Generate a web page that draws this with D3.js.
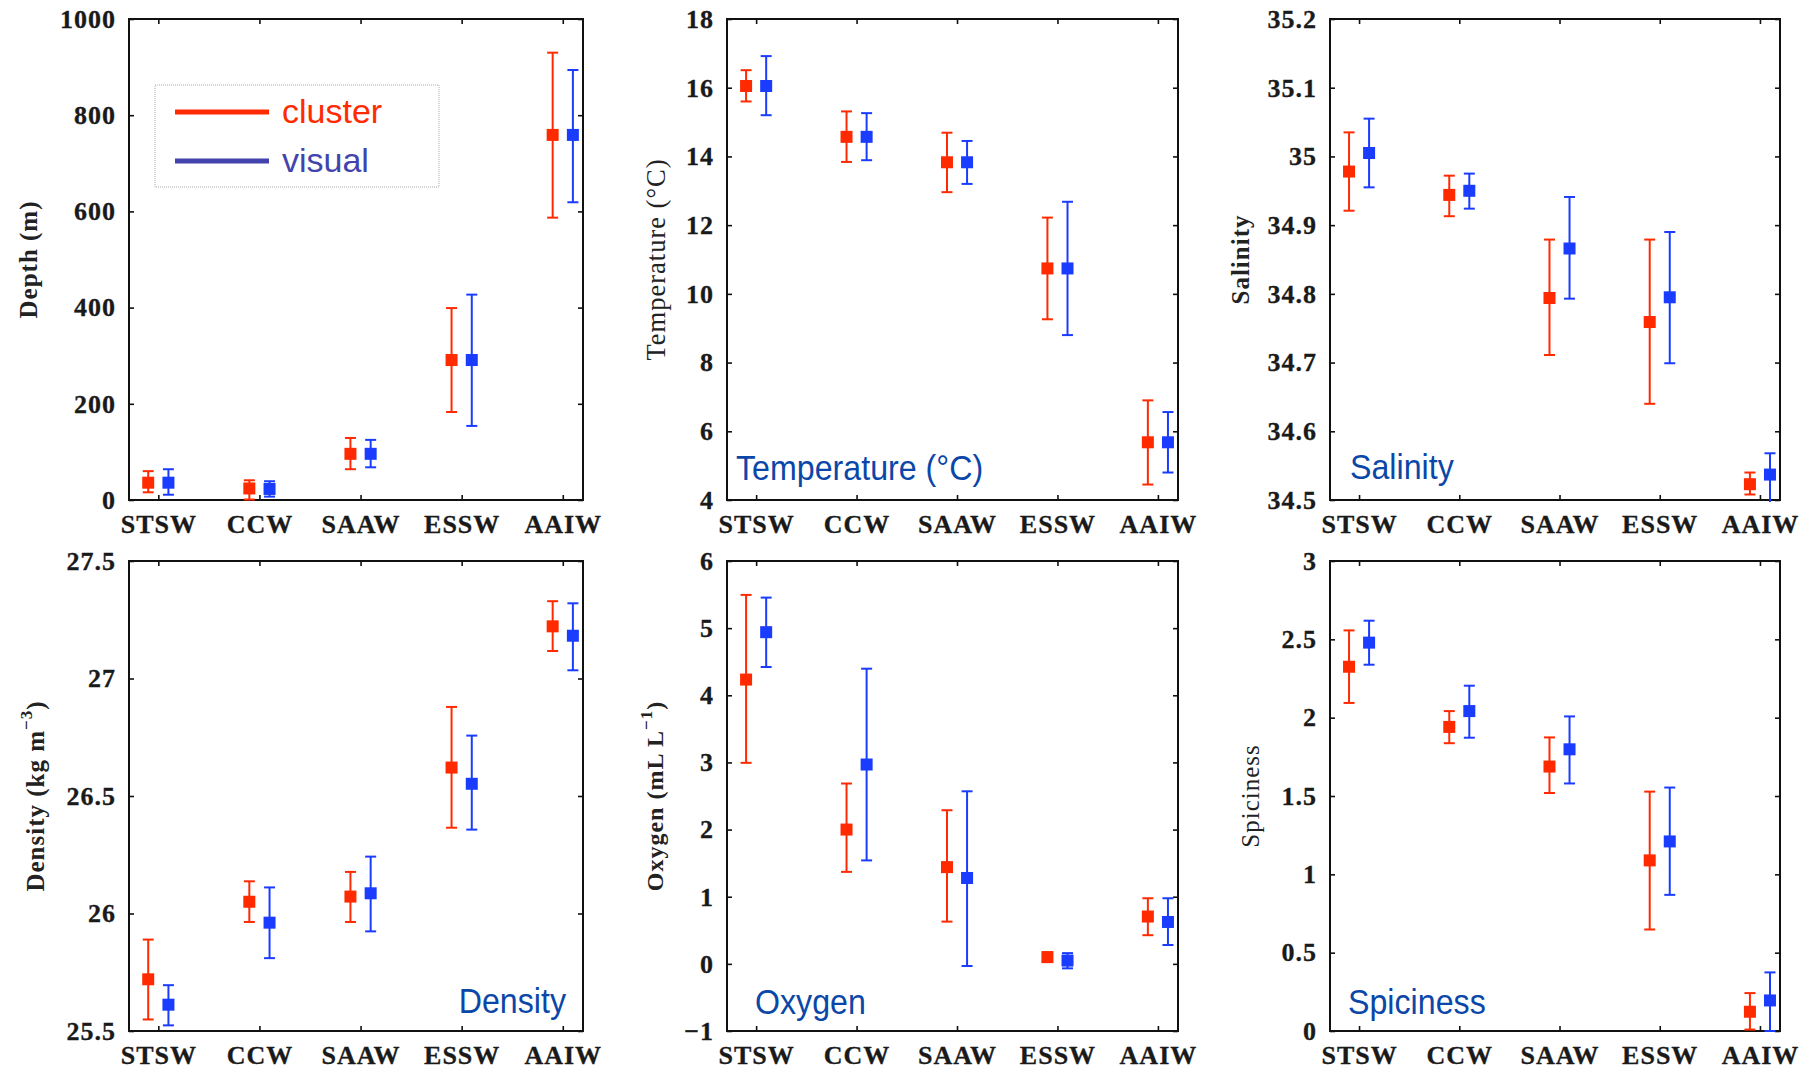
<!DOCTYPE html>
<html lang="en">
<head>
  <meta charset="UTF-8">
  <title>Water mass properties: cluster vs visual</title>
  <script src="https://d3js.org/d3.v7.min.js"></script>
  <style>
    body { margin: 0; padding: 0; background: #fff; }
    .tick text { font-family: "Liberation Serif", "Times New Roman", serif; font-weight: bold; font-size: 26px; fill: #1a1a1a; stroke: #1a1a1a; stroke-width: 0.3; letter-spacing: 1px; }
    .tick line { stroke: #111; stroke-width: 1.6; }
    .ytitle { font-family: "Liberation Serif", "Times New Roman", serif; fill: #222; }
    .note { font-family: "Liberation Sans", Arial, sans-serif; font-size: 35px; fill: #0b47a8; }
    .legend text { font-family: "Liberation Sans", Arial, sans-serif; font-size: 34px; }
  </style>
</head>
<body>
  <div id="chart"></div>
  <script>
    // categories (water masses)
    const categories = ["STSW", "CCW", "SAAW", "ESSW", "AAIW"];

    // each entry: [mean, lower, upper]
    const depthCluster = [[36, 16, 60], [24, 1, 41], [96, 64, 129], [291, 183, 399], [759, 587, 930]];
    const depthVisual  = [[36, 11, 64], [23, 7, 39], [96, 68, 125], [291, 154, 427], [759, 619, 894]];

    const tempCluster = [[16.05, 15.6, 16.51], [14.57, 13.84, 15.31], [13.83, 12.96, 14.69], [10.74, 9.26, 12.22], [5.68, 4.45, 6.9]];
    const tempVisual  = [[16.05, 15.2, 16.92], [14.57, 13.89, 15.26], [13.83, 13.2, 14.45], [10.74, 8.8, 12.68], [5.68, 4.8, 6.56]];

    const salCluster = [[34.978, 34.921, 35.035], [34.944, 34.913, 34.972], [34.794, 34.711, 34.879], [34.759, 34.64, 34.879], [34.523, 34.508, 34.54]];
    const salVisual  = [[35.005, 34.955, 35.055], [34.95, 34.924, 34.975], [34.866, 34.793, 34.941], [34.795, 34.699, 34.89], [34.537, 34.495, 34.568]];

    const densCluster = [[25.72, 25.549, 25.889], [26.05, 25.964, 26.137], [26.072, 25.964, 26.177], [26.621, 26.365, 26.879], [27.222, 27.117, 27.329]];
    const densVisual  = [[25.612, 25.524, 25.695], [25.961, 25.81, 26.111], [26.086, 25.924, 26.242], [26.552, 26.357, 26.757], [27.182, 27.035, 27.32]];

    const oxyCluster = [[4.234, 2.994, 5.495], [2.0, 1.37, 2.686], [1.441, 0.629, 2.288], [0.1, 0.03, 0.17], [0.705, 0.427, 0.977]];
    const oxyVisual  = [[4.94, 4.421, 5.455], [2.969, 1.541, 4.396], [1.279, -0.032, 2.57], [0.049, -0.067, 0.16], [0.624, 0.281, 0.977]];

    const spiceCluster = [[2.325, 2.094, 2.557], [1.941, 1.837, 2.042], [1.688, 1.519, 1.874], [1.089, 0.648, 1.528], [0.123, 0.009, 0.242]];
    const spiceVisual  = [[2.479, 2.338, 2.619], [2.042, 1.872, 2.204], [1.798, 1.58, 2.008], [1.21, 0.869, 1.554], [0.195, 0.0, 0.374]];

    // y tick values
    const depthTicks = [0, 200, 400, 600, 800, 1000];
    const tempTicks = [4, 6, 8, 10, 12, 14, 16, 18];
    const salTicks = [34.5, 34.6, 34.7, 34.8, 34.9, 35, 35.1, 35.2];
    const densTicks = [25.5, 26, 26.5, 27, 27.5];
    const oxyTicks = [-1, 0, 1, 2, 3, 4, 5, 6];
    const spiceTicks = [0, 0.5, 1, 1.5, 2, 2.5, 3];

    const seriesNames = ["cluster", "visual"];
    const seriesColors = ["#ff2a00", "#1a3cff"];
    const legendColors = ["#ff2a00", "#4343ae"];

    // layout
    const cols = [{ x: 129, w: 454 }, { x: 727, w: 451 }, { x: 1330, w: 450 }];
    const rows = [{ y: 19, h: 481 }, { y: 561, h: 470 }];

    const fmtMinus = d => String(d).replace("-", "\u2212");

    const panels = [
      { col: 0, row: 0, data: [depthCluster, depthVisual], ticks: depthTicks,
        title: [{ t: "Depth (m)" }], bold: true, size: 25, titleDx: 101, legend: true },
      { col: 1, row: 0, data: [tempCluster, tempVisual], ticks: tempTicks,
        title: [{ t: "Temperature (\u00B0C)" }], bold: false, size: 26.5, titleDx: 71,
        note: "Temperature (\u00B0C)", noteX: 9, noteDy: 20, anchor: "start" },
      { col: 2, row: 0, data: [salCluster, salVisual], ticks: salTicks,
        title: [{ t: "Salinity" }], bold: true, size: 25, titleDx: 90,
        note: "Salinity", noteX: 20, noteDy: 21, anchor: "start" },
      { col: 0, row: 1, data: [densCluster, densVisual], ticks: densTicks,
        title: [{ t: "Density (kg m" }, { t: "\u22123", sup: true }, { t: ")" }], bold: true, size: 25, titleDx: 94,
        note: "Density", noteX: -17, noteDy: 18, anchor: "end" },
      { col: 1, row: 1, data: [oxyCluster, oxyVisual], ticks: oxyTicks,
        title: [{ t: "Oxygen (mL L" }, { t: "\u22121", sup: true }, { t: ")" }], bold: true, size: 24, titleDx: 72,
        note: "Oxygen", noteX: 28, noteDy: 17, anchor: "start" },
      { col: 2, row: 1, data: [spiceCluster, spiceVisual], ticks: spiceTicks,
        title: [{ t: "Spiciness" }], bold: false, size: 25, titleDx: 80,
        note: "Spiciness", noteX: 18, noteDy: 17, anchor: "start" }
    ];

    const svg = d3.select("#chart").append("svg")
      .attr("width", 1820)
      .attr("height", 1071);

    panels.forEach((p, i) => {
      const L = cols[p.col], R = rows[p.row];
      const w = L.w, h = R.h;
      const g = svg.append("g").attr("transform", `translate(${L.x},${R.y})`);

      const x = d3.scaleLinear().domain([0.71, 5.2]).range([0, w]);
      const y = d3.scaleLinear().domain([p.ticks[0], p.ticks[p.ticks.length - 1]]).range([h, 0]);

      // frame
      g.append("rect")
        .attr("width", w).attr("height", h)
        .attr("fill", "none").attr("stroke", "#111").attr("stroke-width", 2);

      // axes, ticks pointing inward
      g.append("g").attr("transform", `translate(0,${h})`)
        .call(d3.axisBottom(x).tickValues([1, 2, 3, 4, 5]).tickFormat(d => categories[d - 1]).tickSize(-5).tickPadding(15))
        .call(a => a.select(".domain").remove());
      g.append("g")
        .call(d3.axisTop(x).tickValues([1, 2, 3, 4, 5]).tickFormat("").tickSize(-5))
        .call(a => a.select(".domain").remove());
      g.append("g")
        .call(d3.axisLeft(y).tickValues(p.ticks).tickFormat(fmtMinus).tickSize(-5).tickPadding(13))
        .call(a => a.select(".domain").remove());
      g.append("g").attr("transform", `translate(${w},0)`)
        .call(d3.axisRight(y).tickValues(p.ticks).tickFormat("").tickSize(-5))
        .call(a => a.select(".domain").remove());

      // y title
      const tt = svg.append("text")
        .attr("class", "ytitle")
        .attr("transform", `translate(${L.x - p.titleDx},${R.y + h / 2}) rotate(-90)`)
        .attr("text-anchor", "middle")
        .attr("dominant-baseline", "central")
        .style("font-size", p.size + "px")
        .style("font-weight", p.bold ? "bold" : "normal")
        .style("letter-spacing", "1px");
      p.title.forEach(seg => {
        if (seg.sup) {
          tt.append("tspan").attr("dy", -9).style("font-size", "17px").text(seg.t);
        } else {
          const ts = tt.append("tspan").text(seg.t);
          if (seg.t === ")") ts.attr("dy", 9);
        }
      });

      // error bars + markers
      const clipId = "clip" + i;
      g.append("clipPath").attr("id", clipId)
        .append("rect").attr("x", -2).attr("y", -2).attr("width", w + 4).attr("height", h + 4);
      const marks = g.append("g").attr("clip-path", `url(#${clipId})`);
      const offsets = [-0.1, 0.1];
      p.data.forEach((series, s) => {
        const sg = marks.append("g").attr("stroke", seriesColors[s]).attr("fill", seriesColors[s]);
        series.forEach((d, k) => {
          const cx = x(k + 1 + offsets[s]);
          sg.append("line").attr("x1", cx).attr("x2", cx).attr("y1", y(d[1])).attr("y2", y(d[2])).attr("stroke-width", 2);
          sg.append("line").attr("x1", cx - 5.5).attr("x2", cx + 5.5).attr("y1", y(d[1])).attr("y2", y(d[1])).attr("stroke-width", 2);
          sg.append("line").attr("x1", cx - 5.5).attr("x2", cx + 5.5).attr("y1", y(d[2])).attr("y2", y(d[2])).attr("stroke-width", 2);
          sg.append("rect").attr("x", cx - 6).attr("y", y(d[0]) - 6).attr("width", 12).attr("height", 12).attr("stroke", "none");
        });
      });

      // panel note
      if (p.note) {
        const nx = p.anchor === "end" ? w + p.noteX : p.noteX;
        g.append("g").attr("transform", `translate(${nx},${h - p.noteDy}) scale(0.92,1)`)
          .append("text").attr("class", "note").attr("text-anchor", p.anchor).text(p.note);
      }

      // legend
      if (p.legend) {
        const lg = g.append("g").attr("class", "legend");
        lg.append("rect").attr("x", 26).attr("y", 66).attr("width", 284).attr("height", 102)
          .attr("fill", "none").attr("stroke", "#aaa").attr("stroke-width", 1).attr("stroke-dasharray", "1,1");
        seriesNames.forEach((name, s) => {
          const ly = 93 + s * 49;
          lg.append("line").attr("x1", 46).attr("x2", 140).attr("y1", ly).attr("y2", ly)
            .attr("stroke", legendColors[s]).attr("stroke-width", 5);
          lg.append("text").attr("x", 153).attr("y", ly + 11).attr("fill", legendColors[s]).text(name);
        });
      }
    });
  </script>
</body>
</html>
